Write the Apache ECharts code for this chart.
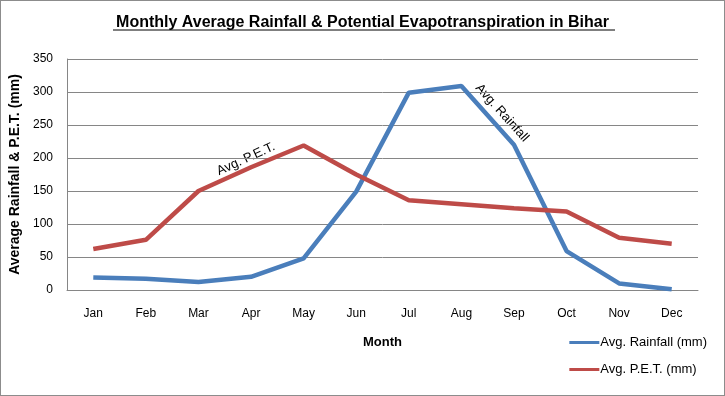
<!DOCTYPE html>
<html>
<head>
<meta charset="utf-8">
<script src="https://cdn.jsdelivr.net/npm/echarts@6/dist/echarts.min.js"></script>
<style>
  html, body { margin: 0; padding: 0; background: #fff; }
  #chart { width: 725px; height: 396px; box-sizing: border-box; border: 1px solid #8c8c8c; }
</style>
</head>
<body>
<div id="chart"></div>
<script type="text/javascript">
var months = ['Jan', 'Feb', 'Mar', 'Apr', 'May', 'Jun', 'Jul', 'Aug', 'Sep', 'Oct', 'Nov', 'Dec'];
var rainfall = [19, 17, 12, 20, 48, 149, 299, 309, 220, 59, 10, 1];
var pet = [62, 76, 150, 186, 219, 175, 136, 130, 124, 119, 79, 70];
var yTicks = [0, 50, 100, 150, 200, 250, 300, 350];

var font = 'Liberation Sans';
var myChart = echarts.init(document.getElementById('chart'));
var option = {
    backgroundColor: '#fff',
    animation: false,
    title: {
        text: 'Monthly Average Rainfall & Potential Evapotranspiration in Bihar',
        left: 'center',
        top: 9,
        textStyle: { fontFamily: font, fontSize: 16, fontWeight: 'bold', color: '#000' }
    },
    grid: { left: 66, right: 26, top: 58, bottom: 105, containLabel: false, outerBoundsMode: 'none' },
    legend: {
        orient: 'vertical',
        right: 12,
        top: 330,
        itemWidth: 30,
        itemHeight: 3,
        itemGap: 14,
        icon: 'rect',
        textStyle: { fontFamily: font, fontSize: 13, color: '#000', padding: [0, 0, 0, -4] },
        data: ['Avg. Rainfall (mm)', 'Avg. P.E.T. (mm)']
    },
    xAxis: {
        type: 'category',
        data: months,
        boundaryGap: true,
        name: 'Month',
        nameLocation: 'middle',
        nameGap: 46,
        nameTextStyle: { fontFamily: font, fontSize: 13, fontWeight: 'bold', color: '#000' },
        axisLine: { lineStyle: { color: '#868686', width: 1 } },
        axisTick: { show: false },
        axisLabel: { fontFamily: font, fontSize: 12, color: '#000', margin: 18 }
    },
    yAxis: {
        type: 'value',
        min: yTicks[0],
        max: yTicks[yTicks.length - 1],
        interval: 50,
        name: 'Average Rainfall & P.E.T. (mm)',
        nameLocation: 'middle',
        nameGap: 42,
        nameTextStyle: { fontFamily: font, fontSize: 14, fontWeight: 'bold', color: '#000' },
        axisLine: { show: true, lineStyle: { color: '#868686', width: 1 } },
        axisTick: { show: false },
        splitLine: { lineStyle: { color: '#868686', width: 1 } },
        axisLabel: { fontFamily: font, fontSize: 12, color: '#000', margin: 14 }
    },
    series: [
        {
            name: 'Avg. Rainfall (mm)',
            type: 'line',
            data: rainfall,
            symbol: 'none',
            color: '#4a7ebb',
            lineStyle: { width: 4.5, color: '#4a7ebb' }
        },
        {
            name: 'Avg. P.E.T. (mm)',
            type: 'line',
            data: pet,
            symbol: 'none',
            color: '#be4b48',
            lineStyle: { width: 4.5, color: '#be4b48' }
        }
    ],
    graphic: [
        // underline of the title
        { type: 'line', shape: { x1: 112, y1: 29, x2: 614, y2: 29 }, style: { stroke: '#000', lineWidth: 1.2 } },
        {
            type: 'text', x: 245, y: 158, rotation: 24.5 * Math.PI / 180,
            style: { text: 'Avg. P.E.T.', fontFamily: font, fontSize: 13, fill: '#000', align: 'center', verticalAlign: 'middle' }
        },
        {
            type: 'text', x: 501, y: 112, rotation: -48 * Math.PI / 180,
            style: { text: 'Avg. Rainfall', fontFamily: font, fontSize: 13, fill: '#000', align: 'center', verticalAlign: 'middle' }
        }
    ]
};
myChart.setOption(option);
</script>
</body>
</html>
